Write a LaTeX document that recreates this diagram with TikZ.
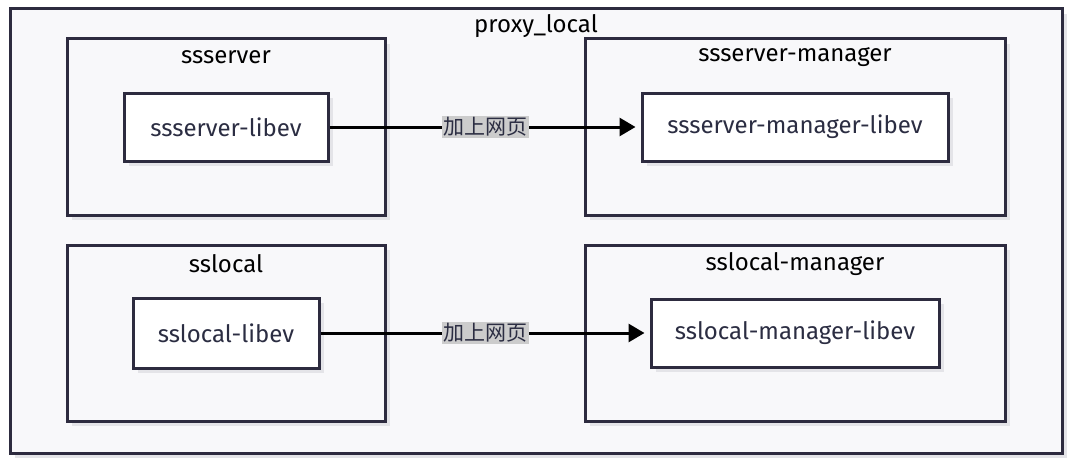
\documentclass[tikz,border=0pt]{standalone}
\usepackage{fontspec}
\setmainfont{Fira Sans}
\newfontfamily\cjk{Noto Sans CJK SC}
\usetikzlibrary{arrows.meta, shadows}
\definecolor{edgeline}{HTML}{2D2B3F}
\definecolor{clusterfill}{HTML}{F8F8FA}
\definecolor{shade}{HTML}{E4E4E8}
\definecolor{labelbg}{HTML}{CCCCCC}
\definecolor{nodetext}{HTML}{2B2D42}
\tikzset{
  boxshadow/.style={drop shadow={shadow xshift=5pt, shadow yshift=-5pt, fill=shade, opacity=1}},
  groupbox/.style={draw=edgeline, line width=3pt, fill=clusterfill, boxshadow},
  libbox/.style={draw=edgeline, line width=3pt, fill=white, boxshadow, text=nodetext, minimum height=68pt},
  grouptitle/.style={font=\fontsize{24}{28}\selectfont, text=black},
  linkarrow/.style={line width=3pt, -{Triangle[length=16pt, width=18pt]}, shorten >=5pt},
  linklabel/.style={fill=labelbg, font=\cjk\fontsize{21}{24}\selectfont, text=nodetext, inner sep=1.5pt}
}
\begin{document}
\begin{tikzpicture}[x=1pt, y=-1pt, font=\fontsize{24}{28}\selectfont]
      \useasboundingbox (0,0) rectangle (1071,460);
      \node[groupbox, minimum width=1052pt, minimum height=444pt] (proxy) at (536,231) {};
      \node[grouptitle] (proxytitle) at (536,26) {proxy\_local};

      \node[groupbox, minimum width=318pt, minimum height=176pt] (ssserver) at (226,127) {};
      \node[grouptitle] (ssservertitle) at (226,57) {ssserver};
      \node[groupbox, minimum width=420pt, minimum height=176pt] (ssmgr) at (795,127) {};
      \node[grouptitle] (ssmgrtitle) at (795,57) {ssserver-manager};
      \node[groupbox, minimum width=318pt, minimum height=176pt] (sslocal) at (226,333) {};
      \node[grouptitle] (sslocaltitle) at (226,264) {sslocal};
      \node[groupbox, minimum width=420pt, minimum height=176pt] (slmgr) at (795,333) {};
      \node[grouptitle] (slmgrtitle) at (795,264) {sslocal-manager};

      \node[libbox, minimum width=204pt] (ssserverlib) at (226,127) {ssserver-libev};
      \node[libbox, minimum width=306pt] (ssmgrlib) at (795,127) {ssserver-manager-libev};
      \node[libbox, minimum width=186pt, minimum height=70pt] (sslocallib) at (226,333) {sslocal-libev};
      \node[libbox, minimum width=288pt] (slmgrlib) at (795,333) {sslocal-manager-libev};

      \draw[linkarrow] (ssserverlib) -- node[linklabel] {加上网页} (ssmgrlib);
      \draw[linkarrow] (sslocallib) -- node[linklabel] {加上网页} (slmgrlib);
\end{tikzpicture}
\end{document}
